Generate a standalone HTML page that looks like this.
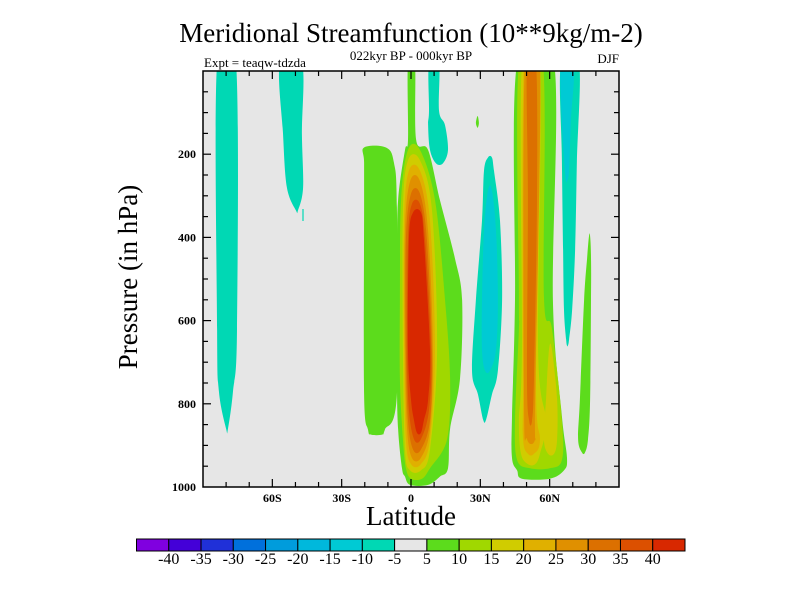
<!DOCTYPE html>
<html><head><meta charset="utf-8"><style>
body{margin:0;background:#fff;}
svg text{font-family:"Liberation Serif",serif;fill:#000;}
</style></head><body>
<svg id="chart" width="800" height="600" viewBox="0 0 800 600">
<rect width="800" height="600" fill="#fff"/>
<text x="411" y="42" font-size="27" text-anchor="middle">Meridional Streamfunction (10**9kg/m-2)</text>
<text x="411" y="60" font-size="13" text-anchor="middle">022kyr BP - 000kyr BP</text>
<text x="204" y="67" font-size="13">Expt = teaqw-tdzda</text>
<text x="619" y="63" font-size="13" text-anchor="end">DJF</text>
<rect x="203" y="71" width="416" height="416" fill="#e6e6e6"/>
<clipPath id="clip"><rect x="203" y="71" width="416" height="416"/></clipPath>
<g id="contours" clip-path="url(#clip)"></g>
<g id="axes"></g>
<rect x="203" y="71" width="416" height="416" fill="none" stroke="#000" stroke-width="1.5"/>
<text x="411" y="525" font-size="27" text-anchor="middle">Latitude</text>
<text transform="translate(137,277) rotate(-90)" font-size="27" text-anchor="middle">Pressure (in hPa)</text>
<g id="colorbar"></g>
</svg>
<script>
const NS="http://www.w3.org/2000/svg";
const X0=203,X1=619,Y0=71,Y1=487;
function xs(lat){return X0+(lat+90)/180*(X1-X0);}
function ys(p){return Y0+p/1000*(Y1-Y0);}
function latOfPx(x){return (x-411)/((X1-X0)/180);}

const xTickVals=[-60,-30,0,30,60];
const xTickLabels=["60S","30S","0","30N","60N"];
const yTickVals=[200,400,600,800,1000];
const yTickLabels=["200","400","600","800","1000"];
const levels=["-40","-35","-30","-25","-20","-15","-10","-5","5","10","15","20","25","30","35","40"];
const levelColors=["#8000e0","#4400d8","#2030d8","#0070dc","#009cdc","#00b8dc","#00cad4","#00d8b4","#e6e6e6","#5cdc1c","#a0d800","#d0cc00","#e0b000","#e09000","#dc7000","#dc5000","#d82800"];

function L(x){return +latOfPx(x).toFixed(1);}
// rows: [pressure hPa, left latitude, right latitude]
const blobCyanSH=[[-20,L(217),L(236)],[620,L(217),L(237)],[770,L(219),L(233)],[860,L(226),L(228)]];
const blobCyanSH2=[[-20,L(280),L(302)],[150,L(283),L(302)],[280,L(287),L(303)],[335,L(296),L(298)]];
const blobGreenS=[[184,L(364),L(386)],[220,L(364),L(394)],[328,L(364),L(397)],[778,L(364),L(397)],[862,L(368),L(385)],[874,L(371),L(382)]];
const eqGreen=[[-20,L(408),L(415)],[165,L(408),L(416)],[190,L(405),L(428)],[310,L(398),L(440)],[450,L(397),L(455)],[550,L(397),L(462)],[740,L(397),L(460)],[860,L(398),L(450)],[955,L(402),L(448)],[975,L(405),L(440)],[995,L(410),L(428)]];
const eqYG=[[190,L(408),L(420)],[310,L(401),L(435)],[550,L(400),L(445)],[740,L(400),L(450)],[885,L(403),L(447)],[955,L(406),L(430)],[980,L(411),L(422)]];
const eqY=[[215,L(408),L(420)],[335,L(403),L(432)],[670,L(403),L(437)],[910,L(405),L(430)],[960,L(410),L(421)]];
const eqO1=[[240,L(409),L(420)],[360,L(404),L(430)],[670,L(404),L(435)],[885,L(406),L(430)],[945,L(411),L(421)]];
const eqO2=[[265,L(410),L(420)],[385,L(405),L(428)],[670,L(405),L(433)],[860,L(407),L(430)],[930,L(412),L(421)]];
const eqO3=[[295,L(411),L(420)],[405,L(406),L(427)],[670,L(406),L(432)],[840,L(408),L(430)],[910,L(413),L(421)]];
const eqO4=[[320,L(412),L(420)],[405,L(408),L(425)],[670,L(407),L(431)],[815,L(409),L(429)],[885,L(414),L(421)]];
const eqRed=[[340,L(413),L(421)],[405,L(409),L(424)],[670,L(408),L(430)],[790,L(411),L(428)],[840,L(414),L(424)],[870,L(417),L(421)]];
const cyanTop=[[-20,L(429),L(439)],[95,L(429),L(439)],[130,L(428),L(445)],[190,L(430),L(448)],[222,L(436),L(443)]];
const cyan25=[[208,L(488),L(492)],[240,L(484),L(494)],[360,L(482),L(500)],[550,L(476),L(502)],[720,L(472),L(498)],[778,L(478),L(492)],[838,L(483),L(486)]];
const cyan25in=[[287,L(488),L(492)],[383,L(484),L(496)],[550,L(482),L(498)],[670,L(482),L(496)],[720,L(485),L(490)]];
const greenDot=[[110,L(477),L(478)],[125,L(476),L(479)],[135,L(477),L(478)]];
const nhGreen=[[-20,L(517),L(554)],[550,L(515),L(553)],[830,L(512),L(562)],[930,L(512),L(567)],[960,L(517),L(564)],[980,L(522),L(550)]];
const nhYG=[[-20,L(519),L(543)],[540,L(519),L(544)],[620,L(519),L(552)],[840,L(515),L(562)],[935,L(517),L(562)],[955,L(530),L(550)]];
const nhY=[[-20,L(522),L(540)],[670,L(522),L(538)],[840,L(519),L(546)],[920,L(521),L(540)],[945,L(528),L(535)]];
const nhYbulge=[[670,L(549),L(552)],[790,L(546),L(557)],[885,L(544),L(557)],[920,L(548),L(554)]];
const nhO1=[[-20,L(524),L(540)],[740,L(523),L(536)],[885,L(523),L(540)],[920,L(528),L(534)]];
const nhO2=[[-20,L(525),L(540)],[790,L(524),L(535)],[885,L(527),L(535)]];
const nhO3=[[-20,L(527),L(536)],[310,L(528),L(537)],[740,L(527),L(534)],[840,L(529),L(532)]];
const nhCyan=[[-20,L(561),L(579)],[215,L(562),L(577)],[430,L(563),L(575)],[575,L(564),L(572)],[645,L(566),L(569)],[660,L(567),L(568)]];
const nhCyanIn=[[-20,L(561),L(574)],[120,L(562),L(571)],[240,L(565),L(569)],[265,L(566),L(567)]];
const nhGreen75=[[397,L(589),L(590)],[450,L(587),L(591)],[550,L(584),L(591)],[790,L(580),L(590)],[885,L(578),L(588)],[917,L(582),L(585)]];

const regions=[
 [7,blobCyanSH],[7,blobCyanSH2],[9,blobGreenS],
 [9,eqGreen],[10,eqYG],[11,eqY],[12,eqO1],[13,eqO2],[14,eqO3],[15,eqO4],[16,eqRed],
 [7,cyanTop],[7,cyan25],[6,cyan25in],[9,greenDot],
 [9,nhGreen],[10,nhYG],[11,nhY],[11,nhYbulge],[12,nhO1],[13,nhO2],[14,nhO3],
 [7,nhCyan],[6,nhCyanIn],[9,nhGreen75]
];
function smoothPath(pts){
  const n=pts.length;let d="M"+pts[0][0].toFixed(1)+","+pts[0][1].toFixed(1);
  for(let i=0;i<n;i++){
    const p0=pts[(i-1+n)%n],p1=pts[i],p2=pts[(i+1)%n],p3=pts[(i+2)%n];
    const c1x=p1[0]+(p2[0]-p0[0])/6,c1y=p1[1]+(p2[1]-p0[1])/6;
    const c2x=p2[0]-(p3[0]-p1[0])/6,c2y=p2[1]-(p3[1]-p1[1])/6;
    d+=" C"+c1x.toFixed(1)+","+c1y.toFixed(1)+" "+c2x.toFixed(1)+","+c2y.toFixed(1)+" "+p2[0].toFixed(1)+","+p2[1].toFixed(1);
  }
  return d+"Z";
}
const cg=document.getElementById('contours');
regions.forEach(function(r){
  const rows=r[1];
  const pts=[];
  rows.forEach(function(row){pts.push([xs(row[1]),ys(row[0])]);});
  for(let i=rows.length-1;i>=0;i--){pts.push([xs(rows[i][2]),ys(rows[i][0])]);}
  const pg=document.createElementNS(NS,'path');
  pg.setAttribute('d',smoothPath(pts));
  pg.setAttribute('fill',levelColors[r[0]]);
  
  
  cg.appendChild(pg);
});
const art=document.createElementNS(NS,'line');
art.setAttribute('x1',303);art.setAttribute('x2',303);art.setAttribute('y1',209);art.setAttribute('y2',221);
art.setAttribute('stroke',levelColors[7]);art.setAttribute('stroke-width',1.2);


cg.appendChild(art);

const ax=document.getElementById('axes');
function ln(x1,y1,x2,y2,name){
  const l=document.createElementNS(NS,'line');
  l.setAttribute('x1',x1);l.setAttribute('y1',y1);l.setAttribute('x2',x2);l.setAttribute('y2',y2);
  l.setAttribute('stroke','#000');l.setAttribute('stroke-width',1.2);
  
  
  ax.appendChild(l);
}
for(let lat=-80;lat<=80;lat+=10){
  const major=lat%30===0;const len=major?8:5;const x=xs(lat);
  ln(x,Y1,x,Y1-len,'x-tick');ln(x,Y0,x,Y0+len,'x-tick-top');
}
for(let p=50;p<1000;p+=50){
  const major=p%200===0;const len=major?8:5;const y=ys(p);
  ln(X0,y,X0+len,y,'y-tick');ln(X1,y,X1-len,y,'y-tick-right');
}
xTickVals.forEach(function(v,i){
  const t=document.createElementNS(NS,'text');
  t.setAttribute('x',xs(v));t.setAttribute('y',502);t.setAttribute('font-size','12');t.setAttribute('font-weight','bold');
  t.setAttribute('text-anchor','middle');t.textContent=xTickLabels[i];
  
  
  ax.appendChild(t);
});
yTickVals.forEach(function(v,i){
  const t=document.createElementNS(NS,'text');
  t.setAttribute('x',196);t.setAttribute('y',ys(v)+4);t.setAttribute('font-size','12');t.setAttribute('font-weight','bold');
  t.setAttribute('text-anchor','end');t.textContent=yTickLabels[i];
  
  
  ax.appendChild(t);
});

const cb=document.getElementById('colorbar');
const CB0=136.5,CB1=685,CBY=539,CBH=12;
const bw=(CB1-CB0)/levelColors.length;
levelColors.forEach(function(c,i){
  const r=document.createElementNS(NS,'rect');
  r.setAttribute('x',CB0+i*bw);r.setAttribute('y',CBY);r.setAttribute('width',bw);r.setAttribute('height',CBH);
  r.setAttribute('fill',c);r.setAttribute('stroke','#000');r.setAttribute('stroke-width',1);
  
  
  cb.appendChild(r);
});
levels.forEach(function(s,i){
  const t=document.createElementNS(NS,'text');
  t.setAttribute('x',CB0+(i+1)*bw);t.setAttribute('y',564);t.setAttribute('font-size','16');
  t.setAttribute('text-anchor','middle');t.textContent=s;
  
  
  cb.appendChild(t);
});
</script>
</body></html>
